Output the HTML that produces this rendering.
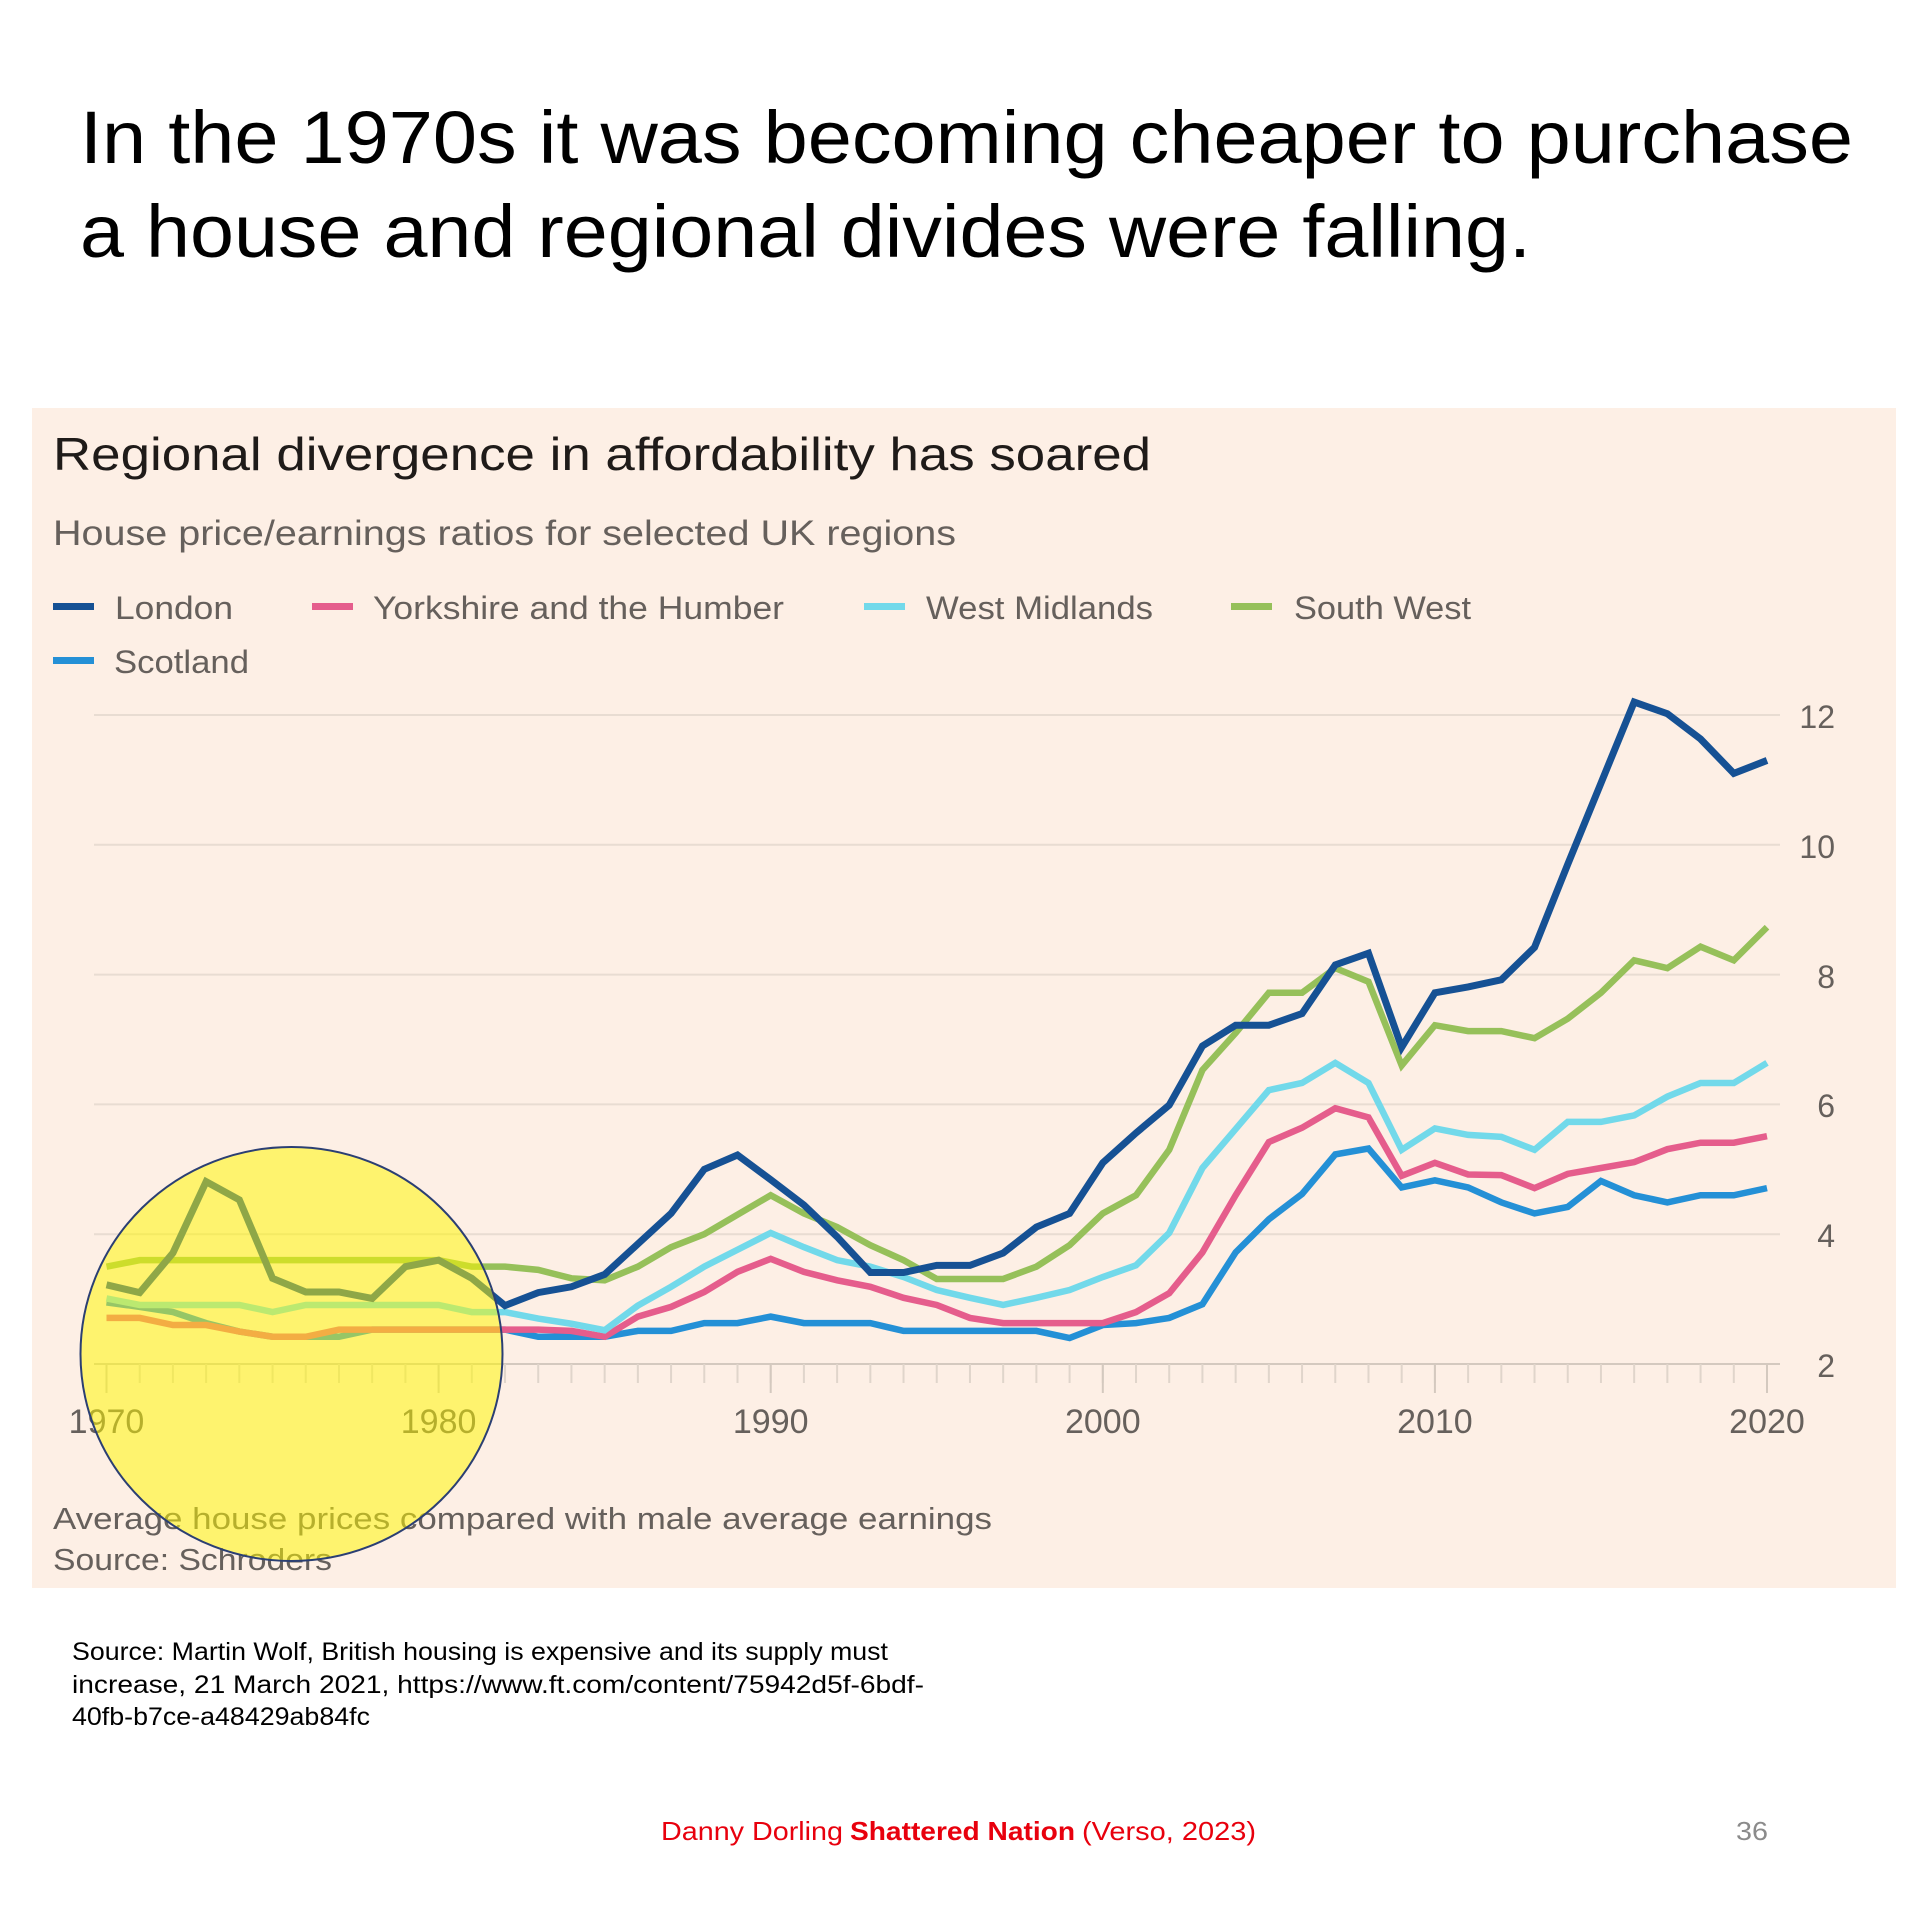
<!DOCTYPE html>
<html>
<head>
<meta charset="utf-8">
<style>
html,body{margin:0;padding:0;background:#ffffff;}
svg{display:block;}
text{font-family:"Liberation Sans",sans-serif;}
</style>
</head>
<body>
<svg width="1920" height="1920" viewBox="0 0 1920 1920" xmlns="http://www.w3.org/2000/svg">
<rect x="0" y="0" width="1920" height="1920" fill="#ffffff"/>

<!-- Slide title -->
<text x="80" y="163" font-size="74" fill="#000" textLength="1773" lengthAdjust="spacingAndGlyphs">In the 1970s it was becoming cheaper to purchase</text>
<text x="80" y="257" font-size="74" fill="#000" textLength="1451" lengthAdjust="spacingAndGlyphs">a house and regional divides were falling.</text>

<!-- Chart panel -->
<rect x="32" y="408" width="1864" height="1180" fill="#fdefe5"/>

<text x="53" y="470" font-size="46" fill="#1f1b19" textLength="1098" lengthAdjust="spacingAndGlyphs">Regional divergence in affordability has soared</text>
<text x="53" y="545" font-size="35" fill="#66605c" textLength="903" lengthAdjust="spacingAndGlyphs">House price/earnings ratios for selected UK regions</text>

<!-- Legend -->
<rect x="53" y="603" width="41" height="7" fill="#165194"/>
<text x="115" y="619" font-size="32" fill="#66605c" textLength="118" lengthAdjust="spacingAndGlyphs">London</text>
<rect x="312" y="603" width="41" height="7" fill="#e55d8c"/>
<text x="373" y="619" font-size="32" fill="#66605c" textLength="411" lengthAdjust="spacingAndGlyphs">Yorkshire and the Humber</text>
<rect x="864" y="603" width="41" height="7" fill="#72d9ea"/>
<text x="926" y="619" font-size="32" fill="#66605c" textLength="227" lengthAdjust="spacingAndGlyphs">West Midlands</text>
<rect x="1231" y="603" width="41" height="7" fill="#96c05a"/>
<text x="1294" y="619" font-size="32" fill="#66605c" textLength="177" lengthAdjust="spacingAndGlyphs">South West</text>
<rect x="53" y="657" width="41" height="7" fill="#2490d6"/>
<text x="114" y="673" font-size="32" fill="#66605c" textLength="135" lengthAdjust="spacingAndGlyphs">Scotland</text>

<!-- Gridlines -->
<g stroke="#e8dcd2" stroke-width="2">
<line x1="94" y1="715" x2="1780" y2="715"/>
<line x1="94" y1="844.8" x2="1780" y2="844.8"/>
<line x1="94" y1="974.6" x2="1780" y2="974.6"/>
<line x1="94" y1="1104.4" x2="1780" y2="1104.4"/>
<line x1="94" y1="1234.2" x2="1780" y2="1234.2"/>
</g>
<line x1="94" y1="1364" x2="1780" y2="1364" stroke="#d4c9bf" stroke-width="2"/>
<!-- minor ticks -->
<line x1="105.5" y1="1373.5" x2="1770" y2="1373.5" stroke="#e0d5cb" stroke-width="19" stroke-dasharray="2 31.21"/>
<!-- major ticks -->
<g stroke="#d4c9bf" stroke-width="2">
<line x1="106.5" y1="1364" x2="106.5" y2="1393"/>
<line x1="438.6" y1="1364" x2="438.6" y2="1393"/>
<line x1="770.7" y1="1364" x2="770.7" y2="1393"/>
<line x1="1102.8" y1="1364" x2="1102.8" y2="1393"/>
<line x1="1434.9" y1="1364" x2="1434.9" y2="1393"/>
<line x1="1767" y1="1364" x2="1767" y2="1393"/>
</g>

<!-- Y labels -->
<g font-size="32" fill="#66605c" text-anchor="end">
<text x="1835" y="728">12</text>
<text x="1835" y="858">10</text>
<text x="1835" y="988">8</text>
<text x="1835" y="1117">6</text>
<text x="1835" y="1247">4</text>
<text x="1835" y="1377">2</text>
</g>

<!-- X labels -->
<g font-size="34" fill="#66605c" text-anchor="middle">
<text x="106.5" y="1433">1970</text>
<text x="438.6" y="1433">1980</text>
<text x="770.7" y="1433">1990</text>
<text x="1102.8" y="1433">2000</text>
<text x="1434.9" y="1433">2010</text>
<text x="1767" y="1433">2020</text>
</g>

<!-- Series -->
<g transform="translate(106.5,1493.8) scale(33.21,-64.9)" fill="none" stroke-linejoin="miter" stroke-miterlimit="3">
<polyline vector-effect="non-scaling-stroke" stroke="#2490d6" stroke-width="6.5" points="0,2.95 1,2.88 2,2.8 3,2.63 4,2.5 5,2.42 6,2.42 7,2.42 8,2.53 9,2.53 10,2.53 11,2.53 12,2.53 13,2.42 14,2.42 15,2.42 16,2.51 17,2.51 18,2.63 19,2.63 20,2.73 21,2.63 22,2.63 23,2.63 24,2.51 25,2.51 26,2.51 27,2.51 28,2.51 29,2.4 30,2.6 31,2.63 32,2.71 33,2.92 34,3.72 35,4.23 36,4.62 37,5.23 38,5.32 39,4.72 40,4.83 41,4.72 42,4.49 43,4.32 44,4.42 45,4.82 46,4.6 47,4.49 48,4.6 49,4.6 50,4.71"/>
<polyline vector-effect="non-scaling-stroke" stroke="#e55d8c" stroke-width="6.5" points="0,2.71 1,2.71 2,2.6 3,2.6 4,2.5 5,2.42 6,2.42 7,2.53 8,2.53 9,2.53 10,2.53 11,2.53 12,2.53 13,2.53 14,2.51 15,2.42 16,2.73 17,2.88 18,3.11 19,3.42 20,3.62 21,3.42 22,3.29 23,3.19 24,3.02 25,2.91 26,2.71 27,2.63 28,2.63 29,2.63 30,2.63 31,2.8 32,3.09 33,3.72 34,4.6 35,5.42 36,5.64 37,5.94 38,5.8 39,4.9 40,5.1 41,4.92 42,4.91 43,4.71 44,4.93 45,5.02 46,5.11 47,5.31 48,5.41 49,5.41 50,5.51"/>
<polyline vector-effect="non-scaling-stroke" stroke="#72d9ea" stroke-width="6.5" points="0,3.01 1,2.91 2,2.91 3,2.91 4,2.91 5,2.8 6,2.91 7,2.91 8,2.91 9,2.91 10,2.91 11,2.8 12,2.8 13,2.7 14,2.62 15,2.52 16,2.9 17,3.19 18,3.5 19,3.76 20,4.02 21,3.8 22,3.6 23,3.5 24,3.34 25,3.14 26,3.02 27,2.91 28,3.02 29,3.14 30,3.34 31,3.52 32,4.02 33,5.02 34,5.62 35,6.22 36,6.33 37,6.64 38,6.33 39,5.3 40,5.63 41,5.53 42,5.5 43,5.3 44,5.73 45,5.73 46,5.83 47,6.12 48,6.33 49,6.33 50,6.64"/>
<polyline vector-effect="non-scaling-stroke" stroke="#96c05a" stroke-width="6.5" points="0,3.5 1,3.6 2,3.6 3,3.6 4,3.6 5,3.6 6,3.6 7,3.6 8,3.6 9,3.6 10,3.6 11,3.5 12,3.5 13,3.45 14,3.32 15,3.29 16,3.5 17,3.8 18,4.0 19,4.3 20,4.6 21,4.32 22,4.11 23,3.83 24,3.6 25,3.31 26,3.31 27,3.31 28,3.5 29,3.83 30,4.32 31,4.6 32,5.3 33,6.53 34,7.1 35,7.72 36,7.72 37,8.1 38,7.89 39,6.6 40,7.22 41,7.13 42,7.13 43,7.02 44,7.32 45,7.72 46,8.22 47,8.1 48,8.43 49,8.22 50,8.73"/>
<polyline vector-effect="non-scaling-stroke" stroke="#165194" stroke-width="7" points="0,3.22 1,3.1 2,3.71 3,4.81 4,4.53 5,3.32 6,3.11 7,3.11 8,3.01 9,3.5 10,3.6 11,3.32 12,2.9 13,3.1 14,3.19 15,3.38 16,3.85 17,4.32 18,5.0 19,5.22 20,4.84 21,4.45 22,3.96 23,3.41 24,3.41 25,3.52 26,3.52 27,3.71 28,4.11 29,4.32 30,5.1 31,5.56 32,5.99 33,6.9 34,7.22 35,7.22 36,7.4 37,8.15 38,8.33 39,6.88 40,7.72 41,7.81 42,7.92 43,8.42 44,9.7 45,10.95 46,12.2 47,12.02 48,11.63 49,11.1 50,11.3"/>
</g>

<!-- Chart footnotes -->
<text x="53" y="1529" font-size="31" fill="#66605c" textLength="939" lengthAdjust="spacingAndGlyphs">Average house prices compared with male average earnings</text>
<text x="53" y="1570" font-size="31" fill="#66605c" textLength="279" lengthAdjust="spacingAndGlyphs">Source: Schroders</text>

<!-- Yellow highlight circle -->
<ellipse cx="291.5" cy="1354" rx="211" ry="207" fill="#fff700" fill-opacity="0.52" stroke="#2b3f73" stroke-width="2"/>

<!-- Source text -->
<g font-size="25" fill="#000">
<text x="72" y="1660" textLength="816" lengthAdjust="spacingAndGlyphs">Source: Martin Wolf, British housing is expensive and its supply must</text>
<text x="72" y="1693" textLength="852" lengthAdjust="spacingAndGlyphs">increase, 21 March 2021, https://www.ft.com/content/75942d5f-6bdf-</text>
<text x="72" y="1725" textLength="298" lengthAdjust="spacingAndGlyphs">40fb-b7ce-a48429ab84fc</text>
</g>

<!-- Footer -->
<g font-size="26" fill="#e8000d">
<text x="661" y="1840" textLength="182" lengthAdjust="spacingAndGlyphs">Danny Dorling</text>
<text x="850" y="1840" font-weight="bold" textLength="225" lengthAdjust="spacingAndGlyphs">Shattered Nation</text>
<text x="1082" y="1840" textLength="174" lengthAdjust="spacingAndGlyphs">(Verso, 2023)</text>
</g>
<text x="1736" y="1840" font-size="26" fill="#8b8b8b" textLength="32" lengthAdjust="spacingAndGlyphs">36</text>
</svg>
</body>
</html>
